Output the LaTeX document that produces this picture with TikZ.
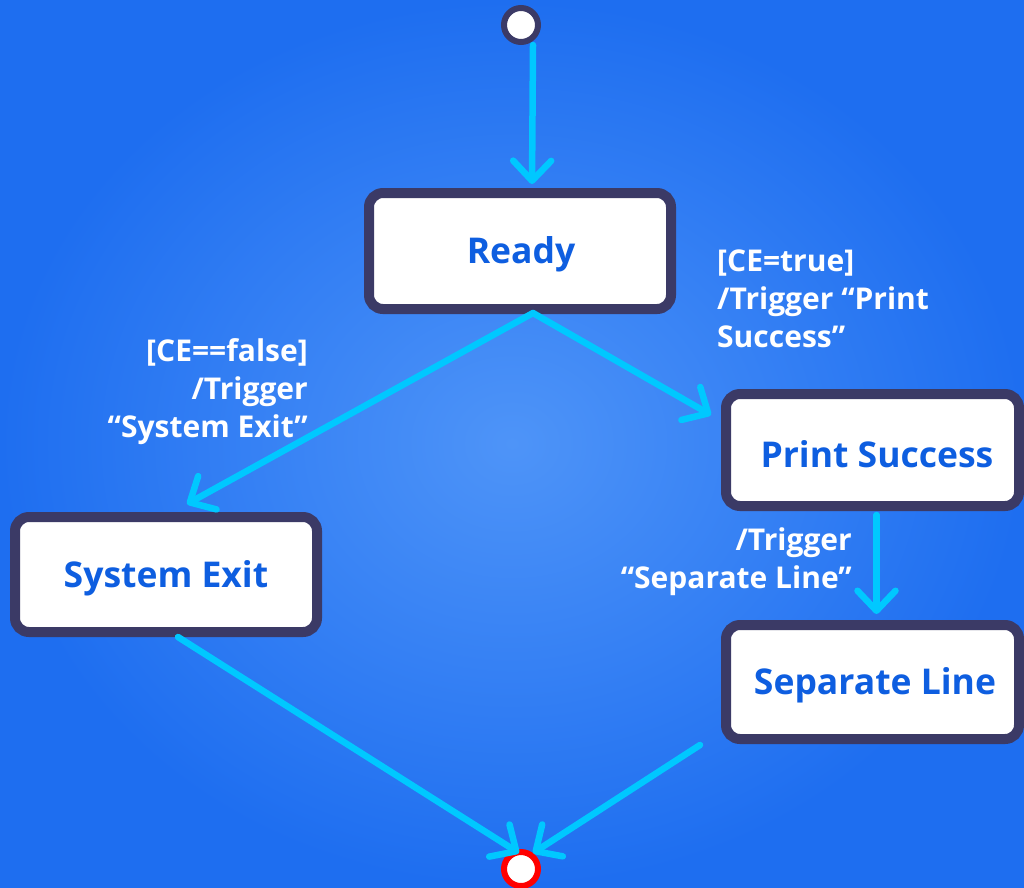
\documentclass[tikz,border=0pt]{standalone}
\usepackage{fontspec}
\setmainfont{Open Sans}
\usetikzlibrary{arrows.meta,shadings}

\definecolor{bgin}{RGB}{78,148,248}
\definecolor{bgout}{RGB}{30,110,240}
\definecolor{stateborder}{RGB}{59,58,102}
\definecolor{statetext}{RGB}{14,94,224}
\definecolor{flowcyan}{RGB}{0,200,255}

\begin{document}
\begin{tikzpicture}[x=1pt,y=-1pt,
  state/.style={draw=stateborder, line width=10pt, fill=white,
    rounded corners=14pt, text=statetext, inner sep=0pt,
    font=\bfseries\fontsize{35.5}{40}\selectfont},
  flow/.style={draw=flowcyan, line width=6.5pt, line cap=round,
    -{Straight Barb[length=20pt,width=38pt,round]}},
  guard/.style={text=white, inner sep=0pt,
    font=\bfseries\fontsize{30}{38}\selectfont}]

\useasboundingbox (0,0) rectangle (1024,887);
\shade[inner color=bgin, outer color=bgout] (0,0) rectangle (1024,887);

% states
\node[state, minimum width=302pt, minimum height=116pt] (ready) at (520,251) {};
\node[state, minimum width=293pt, minimum height=112pt] (print) at (872.5,450) {};
\node[state, minimum width=293pt, minimum height=114pt] (sep) at (872.5,682) {};
\node[state, minimum width=302pt, minimum height=115pt] (sysexit) at (166,574.5) {};

% state names
\node[state, draw=none, fill=none] (readyname) at (521,254) {Ready};
\node[state, draw=none, fill=none] (printname) at (877,454) {Print Success};
\node[state, draw=none, fill=none] (sepname) at (875,685) {Separate Line};
\node[state, draw=none, fill=none] (sysexitname) at (166,578) {System Exit};

% pseudo states
\node[circle, draw=stateborder, line width=6pt, fill=white, minimum size=34pt, inner sep=0pt] (start) at (521,25) {};
\node[circle, draw=red, line width=6pt, fill=white, minimum size=34pt, inner sep=0pt] (end) at (521,869) {};

% transitions
\draw[flow] ([xshift=12pt]start.south) -- ([xshift=12pt,yshift=4pt]ready.north);
\draw[flow] ([xshift=13pt,yshift=1pt]ready.south) -- ([xshift=21pt,yshift=8pt]sysexit.north);
\draw[flow] ([xshift=13pt,yshift=1pt]ready.south) -- ([xshift=-10pt,yshift=35pt]print.west);
\draw[flow] ([xshift=4pt,yshift=-4pt]print.south) -- ([xshift=4pt,yshift=6pt]sep.north);
\draw[flow] ([xshift=12pt]sysexit.south) -- ([xshift=-2pt,yshift=-4pt]end.north);
\draw[flow] ([xshift=-21pt,yshift=-1pt]sep.south west) -- ([xshift=12pt,yshift=-4pt]end.north);

% guards and effects
\node[guard, align=left, anchor=west] (g1) at (717,299) {[CE=true]\\/Trigger “Print\\Success”};
\node[guard, align=right, anchor=east] (g2) at (308,392) {[CE==false]\\/Trigger\\“System Exit”};
\node[guard, align=right, anchor=east] (g3) at (852,562) {/Trigger\\“Separate Line”};
\end{tikzpicture}
\end{document}
